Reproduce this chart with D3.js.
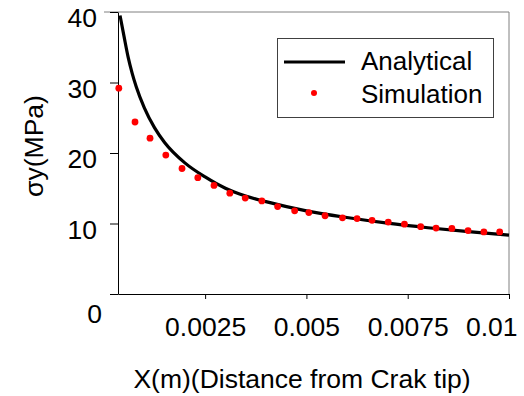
<!DOCTYPE html>
<html><head><meta charset="utf-8">
<script src="https://cdn.jsdelivr.net/npm/d3@7"></script>
<style>
html,body{margin:0;padding:0;background:#fff;}
svg text{font-family:"Liberation Sans",Arial,sans-serif;fill:#000;}
</style></head>
<body><svg id="c" width="524" height="396"></svg>
<script>
// Data
const analyticalX = [0.0004, 0.0005, 0.0006, 0.0007, 0.0008, 0.001, 0.00125, 0.0015, 0.002, 0.0025, 0.003, 0.0035, 0.004, 0.005, 0.006, 0.007, 0.008, 0.009, 0.01];
const analyticalY = [39.5, 36.5, 33.6, 31.3, 29.4, 26.4, 23.6, 21.5, 18.6, 16.6, 15.0, 13.9, 13.1, 11.8, 10.85, 10.05, 9.4, 8.85, 8.35];
const simX = [0.00037, 0.00077, 0.00114, 0.00153, 0.00193, 0.00232, 0.00272, 0.00311, 0.00349, 0.0039, 0.00429, 0.00471, 0.00506, 0.00546, 0.00589, 0.00625, 0.00662, 0.00702, 0.00742, 0.00782, 0.0082, 0.00859, 0.00899, 0.00938, 0.00977];
const simY = [29.2, 24.4, 22.1, 19.7, 17.8, 16.5, 15.4, 14.3, 13.6, 13.2, 12.4, 11.8, 11.55, 11.1, 10.8, 10.7, 10.45, 10.2, 9.9, 9.55, 9.35, 9.3, 9.0, 8.8, 8.8];
const xTicks = [0.0025, 0.005, 0.0075, 0.01];
const xTickLabels = ["0.0025", "0.005", "0.0075", "0.01"];
const yTicks = [0, 10, 20, 30, 40];
const seriesNames = ["Analytical", "Simulation"];

const svg = d3.select("#c");
const L = 118, R = 509, T = 12, B = 294;
const x = d3.scaleLinear().domain([0.00035, 0.01]).range([L, R]);
const y = d3.scaleLinear().domain([0, 40]).range([B, T]);
const FF = '"Liberation Sans",Arial,sans-serif';

// plot border (gray)
svg.append("path").attr("d", `M104,${T}H${R}V${B}`).attr("fill", "none").attr("stroke", "#808080").attr("stroke-width", 1);

// axes
const fs = 26.5;
const gx = svg.append("g").attr("transform", `translate(0,${B})`)
  .call(d3.axisBottom(x).tickValues(xTicks).tickFormat((d, i) => xTickLabels[i]).tickSize(5).tickSizeOuter(0));
gx.select(".domain").attr("stroke", "#000");
gx.selectAll(".tick line").attr("stroke", "#000");
gx.selectAll(".tick text").attr("font-size", fs).attr("y", 23).attr("dy", "0.71em").style("font-family", FF);
// last label shifted inward to fit the picture (as in the original)
gx.selectAll(".tick").filter(d => d === 0.01).select("text").attr("text-anchor", "end").attr("x", 8);

const gy = svg.append("g").attr("transform", `translate(${L},0)`)
  .call(d3.axisLeft(y).tickValues(yTicks).tickFormat(d3.format("d")).tickSize(8).tickSizeOuter(0));
gy.select(".domain").attr("stroke", "#000");
gy.selectAll(".tick line").attr("stroke", "#000");
gy.selectAll(".tick text").attr("font-size", fs).attr("x", -21)
  .attr("dy", d => d === 0 ? "1.07em" : "0.56em")
  .style("font-family", FF);
gy.selectAll(".tick").filter(d => d === 0).select("text").attr("x", -16);

// analytical line
const aData = analyticalX.map((v, i) => [v, analyticalY[i]]);
svg.append("path").datum(aData)
  .attr("d", d3.line().x(d => x(d[0])).y(d => y(d[1])).curve(d3.curveMonotoneX))
  .attr("fill", "none").attr("stroke", "#000").attr("stroke-width", 3.2);

// simulation dots
const sData = simX.map((v, i) => [v, simY[i]]);
svg.append("g").selectAll("circle").data(sData).join("circle")
  .attr("cx", d => x(d[0])).attr("cy", d => y(d[1])).attr("r", 3.4).attr("fill", "#ff0000");

// axis titles
svg.append("text").attr("x", 302).attr("y", 388).attr("text-anchor", "middle").attr("font-size", fs)
  .text("X(m)(Distance from Crak tip)");
svg.append("text").attr("transform", "translate(43,146) rotate(-90)").attr("text-anchor", "middle").attr("font-size", fs)
  .text("σy(MPa)");

// legend
const lg = svg.append("g");
lg.append("rect").attr("x", 277.5).attr("y", 38.5).attr("width", 216).attr("height", 79)
  .attr("fill", "#fff").attr("stroke", "#404040").attr("stroke-width", 1);
lg.append("line").attr("x1", 284).attr("x2", 345).attr("y1", 62).attr("y2", 62).attr("stroke", "#000").attr("stroke-width", 3.2);
lg.append("circle").attr("cx", 314).attr("cy", 93).attr("r", 3).attr("fill", "#ff0000");
lg.append("text").attr("x", 361).attr("y", 70).attr("font-size", 26).text(seriesNames[0]);
lg.append("text").attr("x", 361).attr("y", 102.5).attr("font-size", 26).text(seriesNames[1]);
</script></body></html>
